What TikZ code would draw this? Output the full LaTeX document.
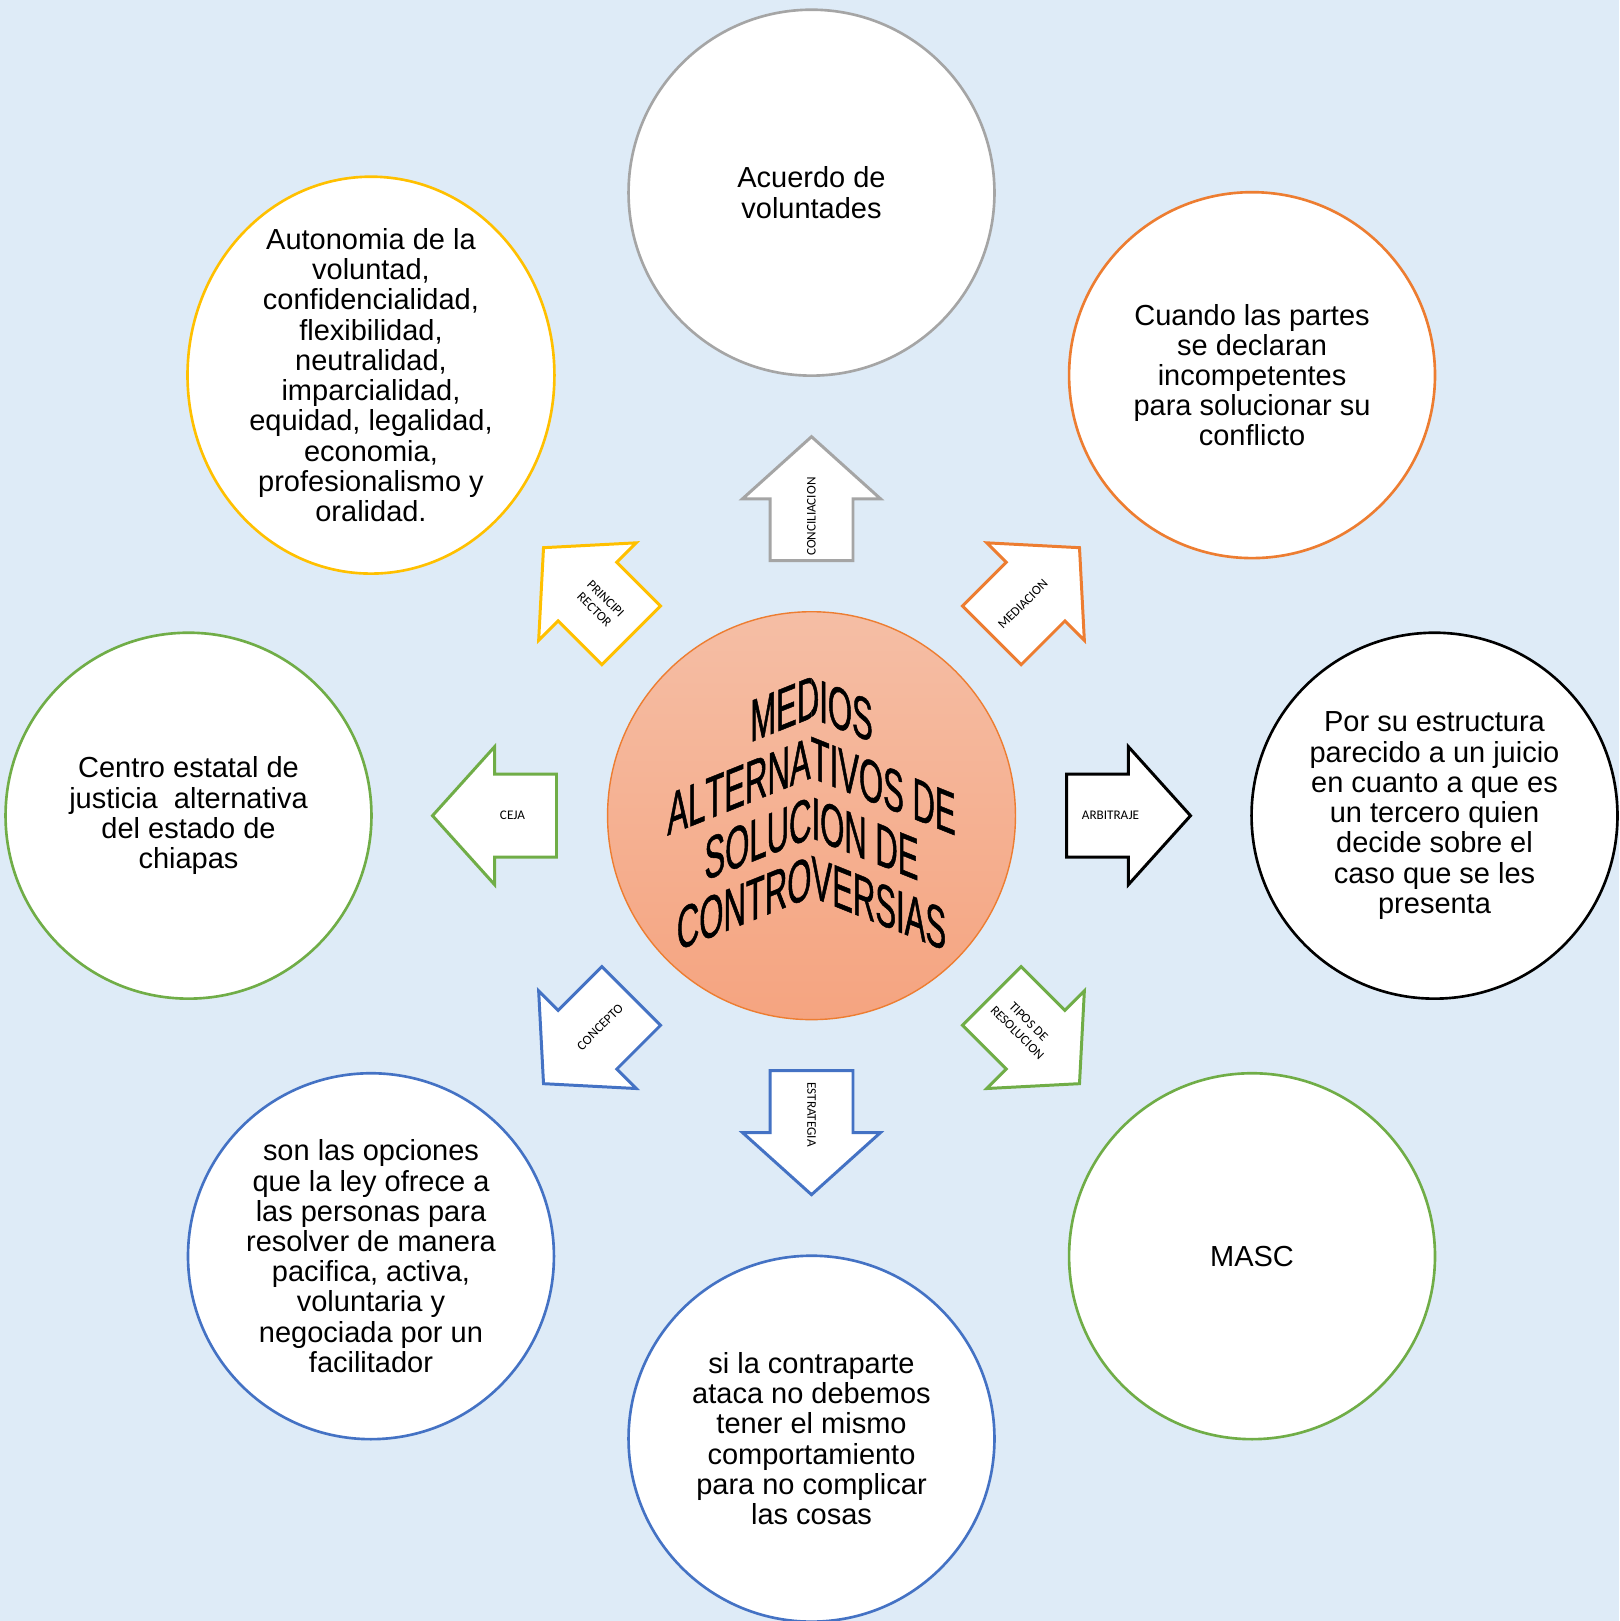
\documentclass[tikz,border=0pt]{standalone}
\usepackage{fontspec}
\setmainfont{Liberation Sans}
\newfontfamily\labelfont{Carlito}
\newfontfamily\wordartfont[FakeStretch=0.52,FakeBold=0.8,Kerning=Off]{Liberation Sans}
\usetikzlibrary{positioning,calc,shapes.geometric,shapes.arrows}
\definecolor{PageBlue}{HTML}{DEEBF7}
\definecolor{Gray}{HTML}{A5A5A5}
\definecolor{Gold}{HTML}{FFC000}
\definecolor{Orange}{HTML}{ED7D31}
\definecolor{Green}{HTML}{70AD47}
\definecolor{Blue}{HTML}{4472C4}
\definecolor{SalmonTop}{HTML}{F5BEA5}
\definecolor{SalmonBottom}{HTML}{F5A480}

\begin{document}
\begin{tikzpicture}[x=0.02cm,y=0.02cm,
    topictext/.style={align=center,inner sep=0pt,font=\fontsize{16.5}{17.2}\selectfont},
    topic/.style={topictext,circle,draw,fill=white,line width=1.5pt,minimum size=7.32cm},
    blockarrow/.style={single arrow,draw,fill=white,line width=1.7pt,inner xsep=0pt,inner ysep=0.80cm,single arrow head extend=0.55cm,single arrow tip angle=96,minimum height=2.48cm,anchor=tip},
    arrowlabel/.style={font=\labelfont\fontsize{7.5}{9}\selectfont,align=center,inner sep=0pt},
    wordart/.style={anchor=base,inner sep=0pt,font=\wordartfont\fontsize{34}{34}\selectfont}
]
\useasboundingbox (0,0) rectangle (1619,1621);
\fill[PageBlue] (0,0) rectangle (1619,1621);

% centre
\node[circle,draw=Orange,line width=0.8pt,top color=SalmonTop,bottom color=SalmonBottom,minimum size=8.16cm] (medios) at (811.5,805.3) {};
\begin{scope}
\clip (0,0) rectangle (811.5,1621);
\node[wordart,yslant=0.4] (w1l) at (811.5,903) {MED\phantom{IOS}};
\node[wordart,yslant=0.4] (w2l) at (811.5,843) {ALTERNAT\phantom{IVOS DE}};
\node[wordart,yslant=0.4] (w3l) at (811.5,783) {SOLUCI\phantom{ON DE}};
\node[wordart,yslant=0.4] (w4l) at (811.5,724) {CONTROV\phantom{ERSIAS}};
\end{scope}
\begin{scope}
\clip (811.5,0) rectangle (1619,1621);
\node[wordart,yslant=-0.4] (w1r) at (811.5,903) {\phantom{ME}DIOS};
\node[wordart,yslant=-0.4] (w2r) at (811.5,843) {\phantom{ALTERNA}TIVOS DE};
\node[wordart,yslant=-0.4] (w3r) at (811.5,783) {\phantom{SOLU}CION DE};
\node[wordart,yslant=-0.4] (w4r) at (811.5,724) {\phantom{CONTR}OVERSIAS};
\end{scope}

% outer circles
\node[topic,draw=Gray] (acuerdo) at ($(medios)+(90:623)$) {Acuerdo de\\voluntades};
\node[topic,draw=Orange] (cuando) at ($(medios)+(45:623)$) {Cuando las partes\\se declaran\\incompetentes\\para solucionar su\\conflicto};
\node[topic,draw=black] (juicio) at ($(medios)+(0:623)$) {Por su estructura\\parecido a un juicio\\en cuanto a que es\\un tercero quien\\decide sobre el\\caso que se les\\presenta};
\node[topic,draw=Green] (masc) at ($(medios)+(-45:623)$) {MASC};
\node[topic,draw=Blue] (contraparte) at ($(medios)+(-90:623)$) {si la contraparte\\ataca no debemos\\tener el mismo\\comportamiento\\para no complicar\\las cosas};
\node[topic,draw=Blue] (opciones) at ($(medios)+(-135:623)$) {son las opciones\\que la ley ofrece a\\las personas para\\resolver de manera\\pacifica, activa,\\voluntaria y\\negociada por un\\facilitador};
\node[topic,draw=Green] (centro) at ($(medios)+(180:623)$) {Centro estatal de\\justicia\ \ alternativa\\del estado de\\chiapas};
\node[topic,ellipse,draw=Gold,minimum width=7.34cm,minimum height=7.94cm] (autonomia) at ($(medios)+(135:623)$) {};
\node[topictext] (autonomiatext) at (autonomia) {Autonomia de la\\voluntad,\\confidencialidad,\\flexibilidad,\\neutralidad,\\imparcialidad,\\equidad, legalidad,\\economia,\\profesionalismo y\\oralidad.};

% block arrows
\node[blockarrow,draw=Gray,rotate=90] (conciliacion) at ($(medios)+(90:381)$) {};
\node[blockarrow,draw=Orange,rotate=45] (mediacion) at ($(medios)+(45:381)$) {};
\node[blockarrow,draw=black,rotate=0] (arbitraje) at ($(medios)+(0:381)$) {};
\node[blockarrow,draw=Green,rotate=-45] (tipos) at ($(medios)+(-45:381)$) {};
\node[blockarrow,draw=Blue,rotate=-90] (estrategia) at ($(medios)+(-90:381)$) {};
\node[blockarrow,draw=Blue,rotate=-135] (concepto) at ($(medios)+(-135:381)$) {};
\node[blockarrow,draw=Green,rotate=180] (ceja) at ($(medios)+(180:381)$) {};
\node[blockarrow,draw=Gold,rotate=135] (principio) at ($(medios)+(135:381)$) {};

\node[arrowlabel,rotate=90] (lblconciliacion) at ($(medios)+(90:299)$) {CONCILIACION};
\node[arrowlabel,rotate=45] (lblmediacion) at ($(medios)+(45:299)$) {MEDIACION};
\node[arrowlabel] (lblarbitraje) at ($(medios)+(0:299)$) {ARBITRAJE};
\node[arrowlabel,rotate=-45] (lbltipos) at ($(medios)+(-45:299)$) {TIPOS DE\\RESOLUCION};
\node[arrowlabel,rotate=-90] (lblestrategia) at ($(medios)+(-90:299)$) {ESTRATEGIA};
\node[arrowlabel,rotate=45] (lblconcepto) at ($(medios)+(-135:299)$) {CONCEPTO};
\node[arrowlabel] (lblceja) at ($(medios)+(180:299)$) {CEJA};
\node[arrowlabel,rotate=-45] (lblprincipio) at ($(medios)+(135:299)$) {PRINCIPI\\RECTOR};
\end{tikzpicture}
\end{document}
